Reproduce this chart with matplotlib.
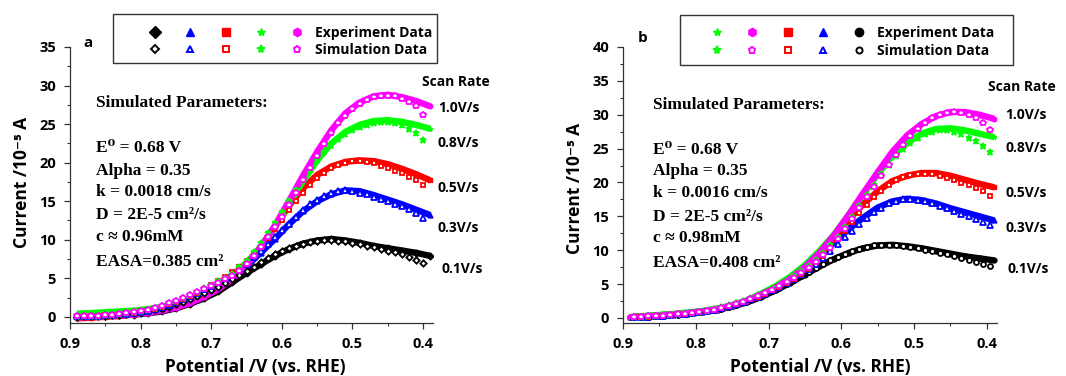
import matplotlib
matplotlib.use("Agg")
import matplotlib.pyplot as plt
from matplotlib.legend_handler import HandlerTuple
from matplotlib.lines import Line2D
from matplotlib.patches import Rectangle
from matplotlib.ticker import MultipleLocator

plt.rcParams['font.family'] = ['Open Sans', 'DejaVu Sans']
plt.rcParams['font.weight'] = 'bold'

# potential grids (V vs RHE)
e_exp = [0.89, 0.87, 0.85, 0.83, 0.81, 0.79, 0.77, 0.75, 0.73, 0.71, 0.69, 0.67, 0.65,
         0.63, 0.61, 0.59, 0.57, 0.55, 0.53, 0.51, 0.49, 0.47, 0.45, 0.43, 0.41, 0.39]
e_sim_a = [0.89, 0.88, 0.87, 0.86, 0.85, 0.84, 0.83, 0.82, 0.81, 0.80,
           0.79, 0.78, 0.77, 0.76, 0.75, 0.74, 0.73, 0.72, 0.71, 0.70,
           0.69, 0.68, 0.67, 0.66, 0.65, 0.64, 0.63, 0.62, 0.61, 0.60,
           0.59, 0.58, 0.57, 0.56, 0.55, 0.54, 0.53, 0.52, 0.51, 0.50,
           0.49, 0.48, 0.47, 0.46, 0.45, 0.44, 0.43, 0.42, 0.41, 0.40]
e_sim_b = [0.885, 0.875, 0.865, 0.855, 0.845, 0.835, 0.825, 0.815, 0.805, 0.795,
           0.785, 0.775, 0.765, 0.755, 0.745, 0.735, 0.725, 0.715, 0.705, 0.695,
           0.685, 0.675, 0.665, 0.655, 0.645, 0.635, 0.625, 0.615, 0.605, 0.595,
           0.585, 0.575, 0.565, 0.555, 0.545, 0.535, 0.525, 0.515, 0.505, 0.495,
           0.485, 0.475, 0.465, 0.455, 0.445, 0.435, 0.425, 0.415, 0.405, 0.395]

rates = ["0.1V/s", "0.3V/s", "0.5V/s", "0.8V/s", "1.0V/s"]

# panel a, experiment (current / 1e-5 A)
a_exp_01 = [0.0, 0.1, 0.15, 0.2, 0.3, 0.45, 0.7, 1.1, 1.7, 2.4, 3.3, 4.5, 5.7, 6.8, 7.9, 8.8,
            9.5, 9.9, 10.1, 9.9, 9.6, 9.2, 8.9, 8.6, 8.3, 7.9]
a_exp_03 = [0.3, 0.4, 0.5, 0.6, 0.7, 0.9, 1.2, 1.6, 2.2, 3.0, 4.0, 5.2, 6.6, 8.3, 10.1, 12.0,
            13.7, 15.0, 15.9, 16.4, 16.3, 15.8, 15.2, 14.6, 13.9, 13.2]
a_exp_05 = [-0.2, -0.1, 0.0, 0.1, 0.3, 0.5, 0.9, 1.4, 2.1, 3.0, 4.1, 5.4, 7.0, 9.0, 11.6, 14.4,
            16.7, 18.4, 19.5, 20.1, 20.3, 20.2, 19.8, 19.2, 18.5, 17.7]
a_exp_08 = [0.4, 0.5, 0.6, 0.7, 0.8, 1.0, 1.3, 1.7, 2.3, 3.1, 4.1, 5.4, 7.0, 9.1, 11.7, 14.6,
            17.6, 20.3, 22.5, 24.0, 24.9, 25.4, 25.5, 25.3, 24.9, 24.4]
a_exp_10 = [-0.1, 0.0, 0.1, 0.2, 0.3, 0.5, 0.8, 1.2, 1.8, 2.6, 3.6, 4.9, 6.7, 9.0, 11.8, 15.0,
            18.3, 21.4, 24.2, 26.4, 27.8, 28.6, 28.8, 28.5, 28.0, 27.3]

# panel a, simulation
a_sim_01 = [0.0, 0.05, 0.1, 0.1, 0.15, 0.2, 0.3, 0.35, 0.45, 0.55,
            0.7, 0.85, 1.05, 1.3, 1.6, 1.9, 2.3, 2.7, 3.1, 3.5,
            3.9, 4.4, 4.9, 5.4, 6.0, 6.5, 7.1, 7.6, 8.1, 8.5,
            8.9, 9.2, 9.5, 9.7, 9.85, 9.95, 9.95, 9.9, 9.8, 9.6,
            9.4, 9.2, 9.0, 8.8, 8.6, 8.4, 8.1, 7.8, 7.4, 7.0]
a_sim_03 = [0.05, 0.1, 0.1, 0.15, 0.2, 0.25, 0.35, 0.4, 0.5, 0.65,
            0.8, 1.0, 1.25, 1.55, 1.9, 2.25, 2.65, 3.1, 3.55, 4.0,
            4.5, 5.0, 5.6, 6.2, 6.9, 7.7, 8.5, 9.4, 10.3, 11.2,
            12.1, 13.0, 13.8, 14.6, 15.2, 15.7, 16.1, 16.3, 16.4, 16.3,
            16.1, 15.9, 15.6, 15.3, 15.0, 14.7, 14.4, 14.0, 13.5, 12.8]
a_sim_05 = [0.05, 0.1, 0.1, 0.15, 0.2, 0.25, 0.35, 0.45, 0.55, 0.7,
            0.85, 1.05, 1.3, 1.6, 1.95, 2.3, 2.7, 3.15, 3.6, 4.1,
            4.6, 5.2, 5.8, 6.5, 7.2, 8.1, 9.1, 10.2, 11.4, 12.6,
            13.8, 15.0, 16.1, 17.1, 18.0, 18.7, 19.3, 19.7, 20.0, 20.2,
            20.2, 20.1, 19.9, 19.6, 19.3, 18.9, 18.6, 18.2, 17.7, 17.1]
a_sim_08 = [0.05, 0.05, 0.1, 0.15, 0.2, 0.3, 0.4, 0.5, 0.6, 0.75,
            0.9, 1.15, 1.45, 1.8, 2.1, 2.45, 2.85, 3.25, 3.7, 4.15,
            4.6, 5.1, 5.6, 6.4, 7.3, 8.4, 9.6, 10.9, 12.2, 13.6,
            15.0, 16.4, 17.8, 19.1, 20.3, 21.4, 22.3, 23.1, 23.7, 24.2,
            24.6, 24.9, 25.2, 25.3, 25.3, 25.2, 24.9, 24.4, 23.8, 23.0]
a_sim_10 = [0.05, 0.05, 0.1, 0.15, 0.2, 0.3, 0.4, 0.5, 0.6, 0.75,
            0.9, 1.15, 1.45, 1.8, 2.1, 2.4, 2.8, 3.2, 3.6, 4.0,
            4.4, 4.9, 5.3, 6.0, 6.9, 7.9, 9.0, 10.3, 11.6, 13.0,
            14.5, 16.1, 17.7, 19.3, 20.9, 22.4, 23.8, 25.1, 26.1, 27.0,
            27.6, 28.1, 28.5, 28.7, 28.7, 28.6, 28.3, 27.9, 27.3, 26.2]

# panel b, experiment
b_exp_01 = [0.1, 0.2, 0.3, 0.45, 0.6, 0.85, 1.2, 1.7, 2.3, 3.1, 4.1, 5.2, 6.4, 7.6, 8.7, 9.6,
            10.3, 10.7, 10.8, 10.6, 10.3, 9.9, 9.5, 9.1, 8.8, 8.5]
b_exp_03 = [0.1, 0.25, 0.4, 0.55, 0.75, 1.0, 1.35, 1.8, 2.5, 3.4, 4.4, 5.7, 7.2, 9.0, 11.2, 13.1,
            14.8, 16.3, 17.2, 17.6, 17.4, 16.9, 16.2, 15.6, 15.0, 14.4]
b_exp_05 = [0.1, 0.25, 0.4, 0.55, 0.75, 1.0, 1.35, 1.8, 2.5, 3.4, 4.4, 5.7, 7.2, 9.2, 11.8, 14.5,
            16.8, 18.7, 20.2, 21.0, 21.4, 21.4, 21.0, 20.4, 19.8, 19.3]
b_exp_08 = [0.15, 0.3, 0.45, 0.6, 0.8, 1.05, 1.4, 1.9, 2.6, 3.6, 4.7, 6.1, 7.8, 9.9, 12.3, 15.2,
            18.2, 21.2, 23.9, 25.8, 27.2, 27.9, 28.0, 27.7, 27.2, 26.7]
b_exp_10 = [0.1, 0.2, 0.35, 0.5, 0.7, 0.95, 1.3, 1.8, 2.5, 3.4, 4.5, 5.8, 7.5, 9.6, 12.2, 15.2,
            18.4, 21.5, 24.5, 26.9, 28.6, 29.8, 30.4, 30.4, 30.0, 29.4]

# panel b, simulation
b_sim_01 = [0.1, 0.15, 0.2, 0.25, 0.3, 0.4, 0.5, 0.6, 0.7, 0.85,
            1.0, 1.2, 1.4, 1.65, 1.95, 2.3, 2.7, 3.1, 3.5, 4.0,
            4.5, 5.0, 5.6, 6.2, 6.8, 7.4, 8.0, 8.5, 9.0, 9.5,
            9.9, 10.2, 10.5, 10.7, 10.8, 10.8, 10.7, 10.6, 10.5, 10.3,
            10.1, 9.9, 9.6, 9.4, 9.2, 8.9, 8.6, 8.3, 8.0, 7.6]
b_sim_03 = [0.1, 0.15, 0.2, 0.3, 0.35, 0.45, 0.55, 0.65, 0.75, 0.9,
            1.05, 1.25, 1.45, 1.7, 2.0, 2.35, 2.75, 3.15, 3.6, 4.1,
            4.6, 5.2, 5.8, 6.5, 7.2, 8.0, 8.9, 9.9, 10.9, 11.9,
            12.9, 13.9, 14.8, 15.6, 16.3, 16.9, 17.3, 17.5, 17.5, 17.4,
            17.2, 16.9, 16.6, 16.2, 15.8, 15.4, 15.0, 14.6, 14.2, 13.7]
b_sim_05 = [0.1, 0.15, 0.2, 0.3, 0.35, 0.45, 0.55, 0.65, 0.75, 0.9,
            1.05, 1.25, 1.45, 1.7, 2.0, 2.35, 2.75, 3.15, 3.6, 4.1,
            4.6, 5.2, 5.8, 6.5, 7.3, 8.2, 9.2, 10.3, 11.6, 12.9,
            14.2, 15.5, 16.7, 17.8, 18.8, 19.6, 20.3, 20.8, 21.1, 21.3,
            21.3, 21.2, 20.9, 20.6, 20.3, 19.9, 19.6, 19.2, 18.7, 18.0]
b_sim_08 = [0.15, 0.2, 0.25, 0.3, 0.4, 0.5, 0.6, 0.7, 0.8, 0.95,
            1.1, 1.3, 1.55, 1.85, 2.15, 2.5, 2.9, 3.35, 3.85, 4.4,
            4.9, 5.5, 6.2, 6.9, 7.7, 8.6, 9.6, 10.8, 12.0, 13.4,
            14.9, 16.5, 18.1, 19.7, 21.2, 22.6, 23.9, 25.0, 25.9, 26.6,
            27.1, 27.5, 27.7, 27.7, 27.5, 27.1, 26.6, 26.1, 25.4, 24.5]
b_sim_10 = [0.15, 0.2, 0.25, 0.3, 0.35, 0.45, 0.55, 0.65, 0.75, 0.9,
            1.05, 1.25, 1.5, 1.75, 2.05, 2.4, 2.8, 3.2, 3.7, 4.2,
            4.7, 5.3, 5.9, 6.6, 7.4, 8.3, 9.3, 10.4, 11.7, 13.1,
            14.6, 16.2, 17.8, 19.4, 21.0, 22.6, 24.1, 25.5, 26.8, 27.9,
            28.8, 29.5, 30.0, 30.3, 30.4, 30.3, 30.0, 29.5, 28.8, 27.8]

colors = ['black', '#0000ff', '#ff0000', '#00ff00', '#ff00ff']
marks_a = ['D', '^', 's', '*', 'h']
marks_b = ['o', '^', 's', '*', 'h']
sim_marks_a = ['D', '^', 's', '*', 'p']
sim_marks_b = ['o', '^', 's', '*', 'p']
sim_ms = {'D': 3.2, 'o': 3.6, '^': 3.8, 's': 3.3, '*': 5.0, 'p': 4.2}

serif = ['Liberation Serif', 'DejaVu Serif']

fig = plt.figure(figsize=(10.66, 3.76), dpi=100)
W, H = 1066.0, 376.0


def fx(x):
    return x / W


def fy(y):
    return 1 - y / H


def draw(ax, exps, sims, e_sim, mk, smk):
    for y, c, m in zip(exps, colors, mk):
        ax.plot(e_exp, y, color=c, lw=4.6, marker=m, ms=3.5, mec=c, mfc=c,
                solid_capstyle='butt', solid_joinstyle='round')
    for y, c, m in zip(sims, colors, smk):
        ax.plot(e_sim, y, ls='none', marker=m, ms=sim_ms[m], mfc='white', mec=c, mew=1.3)


def style(ax, ymin, ymax):
    ax.set_xlim(0.9, 0.386)
    ax.set_ylim(ymin, ymax)
    for s in ['top', 'right']:
        ax.spines[s].set_visible(False)
    for s in ['left', 'bottom']:
        ax.spines[s].set_color('#333333')
        ax.spines[s].set_linewidth(0.9)
    ax.set_xticks([0.9, 0.8, 0.7, 0.6, 0.5, 0.4])
    ax.set_xticklabels(['0.9', '0.8', '0.7', '0.6', '0.5', '0.4'])
    ax.xaxis.set_minor_locator(MultipleLocator(0.05))
    ax.yaxis.set_major_locator(MultipleLocator(5))
    ax.yaxis.set_minor_locator(MultipleLocator(2.5))
    ax.tick_params(which='major', direction='out', length=4, width=0.9,
                   labelsize=10.5, color='#333333', pad=6)
    ax.tick_params(which='minor', direction='out', length=2.2, width=0.8, color='#333333')
    for lab in ax.get_xticklabels() + ax.get_yticklabels():
        lab.set_fontweight('bold')


ax_a = fig.add_axes([fx(70), 53 / H, (433 - 70) / W, 276 / H])
ax_b = fig.add_axes([fx(623), 53 / H, (997 - 623) / W, 276 / H])

draw(ax_a, [a_exp_01, a_exp_03, a_exp_05, a_exp_08, a_exp_10],
     [a_sim_01, a_sim_03, a_sim_05, a_sim_08, a_sim_10], e_sim_a, marks_a, sim_marks_a)
draw(ax_b, [b_exp_01, b_exp_03, b_exp_05, b_exp_08, b_exp_10],
     [b_sim_01, b_sim_03, b_sim_05, b_sim_08, b_sim_10], e_sim_b, marks_b, sim_marks_b)
style(ax_a, -0.8, 35)
style(ax_b, -0.74, 40)


# legends: a row of filled markers and a row of open markers, box drawn separately
def legend(order, mk, smk, first_x, rows_mid, box):
    filled = tuple(Line2D([], [], ls='none', marker=mk[i], color=colors[i], ms=6) for i in order)
    opened = tuple(Line2D([], [], ls='none', marker=smk[i], mfc='white', mec=colors[i],
                          mew=1.4, ms=sim_ms[smk[i]] + 0.8) for i in order)
    fig.legend([filled, opened], ['Experiment Data', 'Simulation Data'],
               handler_map={tuple: HandlerTuple(ndivide=None, pad=0)},
               loc='center left', bbox_to_anchor=(fx(first_x - 17.75), fy(rows_mid)),
               bbox_transform=fig.transFigure, borderaxespad=0, borderpad=0,
               handlelength=177.5 / 13.9, handletextpad=0.05, labelspacing=0.25,
               frameon=False, prop={'size': 10, 'weight': 'bold'})
    x0, y0, x1, y1 = box
    fig.patches.append(Rectangle((fx(x0), fy(y1)), (x1 - x0) / W, (y1 - y0) / H,
                                 transform=fig.transFigure, fill=False,
                                 edgecolor='#333333', lw=1.0))


legend([0, 1, 2, 3, 4], marks_a, sim_marks_a, 155, 41.5, (113, 14, 437, 63))
legend([3, 4, 2, 1, 0], marks_b, sim_marks_b, 717, 42, (680, 15, 1013, 65))

# axis labels
for cx in (255, 820):
    fig.text(fx(cx), fy(367), 'Potential /V (vs. RHE)', ha='center', va='center',
             fontsize=12.5, fontweight='bold')
fig.text(fx(22), fy(182), 'Current /10\u207b\u2075 A', rotation=90, ha='center', va='center',
         fontsize=12.5, fontweight='bold')
fig.text(fx(575), fy(188), 'Current /10\u207b\u2075 A', rotation=90, ha='center', va='center',
         fontsize=12.5, fontweight='bold')

# panel letters
fig.text(fx(83), fy(43), 'a', ha='left', va='center', fontsize=11, fontweight='bold')
fig.text(fx(638), fy(38), 'b', ha='left', va='center', fontsize=11, fontweight='bold')

# parameter blocks
params_a = ['E\u2070 = 0.68 V', 'Alpha = 0.35', 'k = 0.0018 cm/s', 'D = 2E-5 cm\u00b2/s',
            'c \u2248 0.96mM', 'EASA=0.385 cm\u00b2']
params_b = ['E\u2070 = 0.68 V', 'Alpha = 0.35', 'k = 0.0016 cm/s', 'D = 2E-5 cm\u00b2/s',
            'c \u2248 0.98mM', 'EASA=0.408 cm\u00b2']
rows_a = [148, 171, 192, 215, 237, 262]
rows_b = [150, 171, 193, 217, 238, 263]
fig.text(fx(96), fy(103), 'Simulated Parameters:', family=serif, fontsize=12.5,
         fontweight='bold', va='center')
fig.text(fx(653), fy(105), 'Simulated Parameters:', family=serif, fontsize=12.5,
         fontweight='bold', va='center')
for t, r in zip(params_a, rows_a):
    fig.text(fx(96), fy(r), t, family=serif, fontsize=12.5, fontweight='bold', va='center')
for t, r in zip(params_b, rows_b):
    fig.text(fx(653), fy(r), t, family=serif, fontsize=12.5, fontweight='bold', va='center')

# scan rate labels
fig.text(fx(422), fy(82), 'Scan Rate', fontsize=10, fontweight='bold', va='center')
fig.text(fx(988), fy(87), 'Scan Rate', fontsize=10, fontweight='bold', va='center')
rate_y_a = [269, 228, 188, 143, 108]
rate_y_b = [269, 228, 193, 148, 115]
for i, (t, ya, yb) in enumerate(zip(rates, rate_y_a, rate_y_b)):
    dx = 3 if i == 0 else 0
    fig.text(fx(438 + dx), fy(ya), t, fontsize=10, fontweight='bold', va='center')
    fig.text(fx(1005 + dx), fy(yb), t, fontsize=10, fontweight='bold', va='center')

fig.savefig('out.png', dpi=100)
